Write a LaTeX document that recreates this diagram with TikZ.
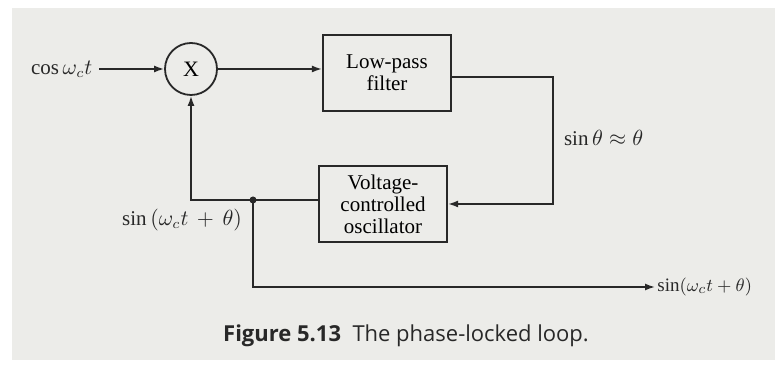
\documentclass[tikz,border=0pt]{standalone}
\usepackage{fontspec}
\setmainfont{Liberation Serif}
\setsansfont{Open Sans}
\usetikzlibrary{positioning,arrows.meta,calc}
\definecolor{paper}{RGB}{236,236,233}
\definecolor{ink}{RGB}{40,40,40}

\begin{document}
\begin{tikzpicture}[
    x=0.5pt, y=-0.5pt,
    block/.style={draw=ink, line width=1.1pt, minimum width=64pt, minimum height=38pt, align=center, inner sep=2pt, font=\fontsize{10.5}{11}\selectfont},
    mixer/.style={draw=ink, line width=0.9pt, circle, minimum size=26pt, inner sep=0pt, font=\fontsize{11}{12}\selectfont},
    sig/.style={font=\fontsize{10.5}{12}\selectfont, text=ink},
    wire/.style={draw=ink, line width=0.8pt},
    >={Latex[length=5pt, width=3.5pt]}
  ]
  \fill[white] (0,0) rectangle (775,367);
  \fill[paper] (12,8) rectangle (775,360);
  \useasboundingbox (0,0) rectangle (775,367);

  % blocks
  \node[mixer] (mix) at (191,69) {X};
  \node[block] (lpf) at (387,73) {Low-pass\\filter};
  \node[block] (vco) at (383,204) {Voltage-\\controlled\\oscillator};

  % signals
  \node[sig, anchor=west] (in) at (24,69) {$\cos\omega_c t$};
  \node[sig, anchor=west, font=\fontsize{9.5}{11}\selectfont, inner sep=1pt] (out) at (655,287) {$\sin(\omega_c t+\theta)$};
  \coordinate (turn) at (553,77);
  \coordinate (tap) at (253,200);

  \draw[wire, ->] (in) -- (mix);
  \draw[wire, ->] (mix.east) -- (mix.east -| lpf.west);
  \draw[wire, ->] (lpf.east |- turn) -- (turn) |- (vco.east);
  \draw[wire, ->] (vco.west |- tap) -| (mix.south);
  \draw[wire, ->] (tap) |- (out);
  \fill[ink] (tap) circle (3.5);

  \node[sig, anchor=west] (err) at (557,138) {$\sin\theta\approx\theta$};
  \node[sig, below left=1pt and 2pt of tap] (fb) {$\sin\,(\omega_c t\,+\,\theta)$};

  \node[font=\sffamily\fontsize{11}{13}\selectfont, text=ink] (cap) at (406,336) {\textbf{Figure 5.13}\ \ The phase-locked loop.};
\end{tikzpicture}
\end{document}
